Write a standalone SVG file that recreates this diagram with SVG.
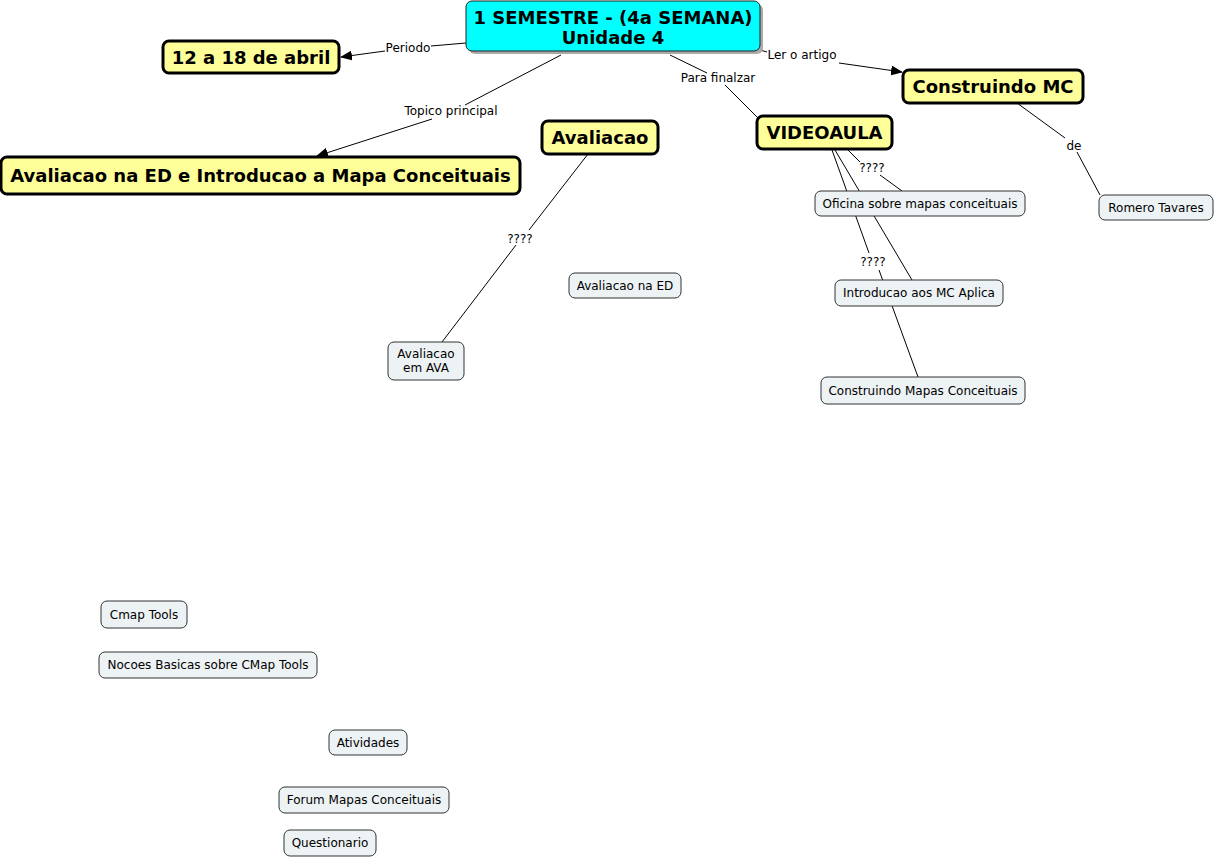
<svg xmlns="http://www.w3.org/2000/svg" width="1216" height="859" viewBox="0 0 1216 859">
<defs>
<marker id="arr" markerWidth="12" markerHeight="10" refX="11" refY="5" orient="auto" markerUnits="userSpaceOnUse">
<path d="M0,0 L12,5 L0,10 z" fill="#000"/>
</marker>
<style>
.big rect{fill:#ffff99;stroke:#000;stroke-width:3}
.big text{font-family:"DejaVu Sans",sans-serif;font-weight:bold;font-size:18px;fill:#000;text-anchor:middle}
.sm rect{fill:#edf2f4;stroke:#333;stroke-width:1}
.sm text{font-family:"DejaVu Sans",sans-serif;font-size:12px;fill:#000;text-anchor:middle}
.lbl{font-family:"DejaVu Sans",sans-serif;font-size:12px;fill:#000;text-anchor:middle}
#connectors line{stroke:#000;stroke-width:1;fill:none}
</style>
</defs>
<rect width="1216" height="859" fill="#fff"/>
<g id="connectors">
<line x1="466" y1="43" x2="431" y2="46"/>
<line x1="385" y1="51" x2="341" y2="57" marker-end="url(#arr)"/>
<text class="lbl" x="408" y="52">Periodo</text>
<line x1="561" y1="55" x2="465" y2="105"/>
<line x1="432" y1="119" x2="317" y2="156" marker-end="url(#arr)"/>
<text class="lbl" x="451" y="115">Topico principal</text>
<line x1="670" y1="55" x2="707" y2="73"/>
<line x1="725" y1="85" x2="758" y2="118"/>
<text class="lbl" x="718" y="82">Para finalzar</text>
<line x1="760" y1="50" x2="767" y2="52"/>
<line x1="839" y1="63" x2="902" y2="72" marker-end="url(#arr)"/>
<text class="lbl" x="802" y="59">Ler o artigo</text>
<line x1="1017" y1="103" x2="1065" y2="138"/>
<line x1="1077" y1="152" x2="1100" y2="195"/>
<text class="lbl" x="1074" y="150">de</text>
<line x1="588" y1="154" x2="529" y2="230"/>
<line x1="516" y1="245" x2="442" y2="342"/>
<text class="lbl" x="520" y="243">????</text>
<line x1="848" y1="150" x2="860" y2="162"/>
<line x1="880" y1="175" x2="902" y2="191"/>
<text class="lbl" x="872" y="172">????</text>
<line x1="832" y1="150" x2="869" y2="253"/>
<line x1="879" y1="270" x2="918" y2="377"/>
<text class="lbl" x="873" y="266">????</text>
<line x1="835" y1="150" x2="912" y2="280"/>
</g>
<g id="root">
<rect x="469" y="4" width="294" height="50" rx="6" fill="#aaa"/>
<rect x="466" y="1" width="294" height="50" rx="6" fill="#00ffff" stroke="#222" stroke-width="1"/>
<text x="613" y="24" font-family="DejaVu Sans, sans-serif" font-weight="bold" font-size="18" text-anchor="middle">1 SEMESTRE - (4a SEMANA)</text>
<text x="613" y="44" font-family="DejaVu Sans, sans-serif" font-weight="bold" font-size="18" text-anchor="middle">Unidade 4</text>
</g>
<g id="periodo" class="big"><rect x="163" y="41" width="176" height="32" rx="6"/><text x="251" y="63.5">12 a 18 de abril</text></g>
<g id="topico" class="big"><rect x="1" y="157" width="519" height="37" rx="6"/><text x="260.5" y="182">Avaliacao na ED e Introducao a Mapa Conceituais</text></g>
<g id="avaliacao" class="big"><rect x="542" y="121" width="116" height="33" rx="6"/><text x="600" y="144">Avaliacao</text></g>
<g id="videoaula" class="big"><rect x="757" y="116" width="135" height="33" rx="6"/><text x="824.5" y="139">VIDEOAULA</text></g>
<g id="construindoMC" class="big"><rect x="903" y="70" width="180" height="33" rx="6"/><text x="993" y="93">Construindo MC</text></g>
<g id="oficina" class="sm"><rect x="815" y="191" width="210" height="25" rx="6"/><text x="920" y="207.5">Oficina sobre mapas conceituais</text></g>
<g id="introducao" class="sm"><rect x="835" y="280" width="168" height="26" rx="6"/><text x="919" y="297">Introducao aos MC Aplica</text></g>
<g id="construindoMapas" class="sm"><rect x="821" y="377" width="204" height="27" rx="6"/><text x="923" y="394.5">Construindo Mapas Conceituais</text></g>
<g id="romero" class="sm"><rect x="1099" y="195" width="114" height="25" rx="6"/><text x="1156" y="212">Romero Tavares</text></g>
<g id="avaliacaoED" class="sm"><rect x="569" y="273" width="112" height="25" rx="6"/><text x="625" y="290">Avaliacao na ED</text></g>
<g id="avaliacaoAVA" class="sm"><rect x="388" y="342" width="76" height="38" rx="6"/><text x="426" y="358">Avaliacao</text><text x="426" y="372">em AVA</text></g>
<g id="cmap" class="sm"><rect x="101" y="601" width="86" height="27" rx="6"/><text x="144" y="618.5">Cmap Tools</text></g>
<g id="nocoes" class="sm"><rect x="99" y="652" width="218" height="26" rx="6"/><text x="208" y="669">Nocoes Basicas sobre CMap Tools</text></g>
<g id="atividades" class="sm"><rect x="329" y="730" width="78" height="25" rx="6"/><text x="368" y="746.5">Atividades</text></g>
<g id="forum" class="sm"><rect x="279" y="787" width="170" height="26" rx="6"/><text x="364" y="804">Forum Mapas Conceituais</text></g>
<g id="questionario" class="sm"><rect x="284" y="830" width="92" height="26" rx="6"/><text x="330" y="847">Questionario</text></g>
</svg>
